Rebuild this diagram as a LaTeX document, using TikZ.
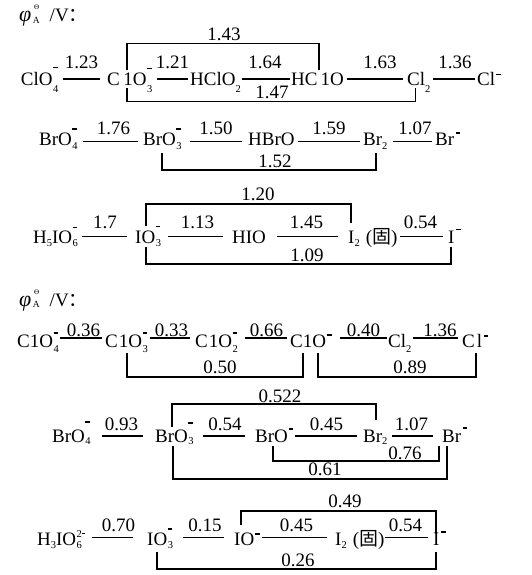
\documentclass[tikz,border=0pt]{standalone}
\usepackage{fontspec}
\setmainfont{Liberation Serif}
\newfontfamily\cjk{Noto Sans CJK SC}
\newcommand\fs{\fontsize{19}{22}\selectfont}
\newcommand\ssz{\fontsize{10.5}{12}\selectfont}
\newcommand\mn[1]{\raisebox{#1}{\rule{4.5pt}{1.6pt}}}
\def\sbd{7pt}
\newcommand\sbs[1]{\raisebox{-\sbd}{\ssz #1}}
\newcommand\stack[2]{\setbox0=\hbox{#1}\setbox2=\hbox{#2}\ifdim\wd0>\wd2 \dimen0=\wd0 \else \dimen0=\wd2 \fi\rlap{\box0}\rlap{\box2}\kern\dimen0\relax}
\newcommand\stk[2]{\kern0.5pt\stack{\sbs{#1}}{#2}}
\newcommand\phiA{{\fontsize{22}{22}\selectfont\textit{φ}}\kern1.5pt\stack{\raisebox{-1.5pt}{\fontsize{9.5}{9.5}\selectfont A}}{\kern1.2pt\raisebox{12pt}{\fontsize{7}{7}\selectfont Θ}}\kern10pt/V{\cjk ：}}
\begin{document}
\begin{tikzpicture}[x=1pt,y=-1pt,
  t/.style={inner sep=0pt,font=\fs,anchor=base west},
  lbl/.style={inner sep=0pt,font=\fs,anchor=base},
  ln/.style={line width=1.1pt}]
\useasboundingbox (0,0) rectangle (532,575);
% headings
\node[t] (h1) at (19,22) {\phiA};
\node[t] (h2) at (19,306) {\phiA};
% ---------------- row 1
\def\sbd{7pt}
\node[t] (n11) at (20.7,85.5) {ClO\stk{4}{\mn{17pt}}};
\node[t] (n12) at (107,85.5) {C\kern3.5pt 1O\stk{3}{\mn{16pt}}};
\node[t] (n13) at (190,85.5) {HClO\sbs{2}};
\node[t] (n14) at (291,85.5) {HC\kern3pt 1O};
\node[t] (n15) at (407,85.5) {Cl\sbs{2}};
\node[t] (n16) at (477,85.5) {Cl\kern1pt\mn{10pt}};
\draw[ln] ([shift={(42.3,-6.5)}]n11.base west) -- ([shift={(-7,-6.5)}]n12.base west) node[lbl,midway,yshift=10.5pt] (v11) {1.23};
\draw[ln] ([shift={(50,-6.5)}]n12.base west) -- ([shift={(-2,-6.5)}]n13.base west) node[lbl,midway,yshift=10.5pt] (v12) {1.21};
\draw[ln] ([shift={(52,-6.5)}]n13.base west) -- ([shift={(-1,-6.5)}]n14.base west) node[lbl,midway,yshift=10.5pt,xshift=-1pt] (v13) {1.64};
\draw[ln] ([shift={(56,-6.5)}]n14.base west) -- ([shift={(-4,-6.5)}]n15.base west) node[lbl,midway,yshift=10.5pt,xshift=5pt] (v14) {1.63};
\draw[ln] ([shift={(26,-6.5)}]n15.base west) -- ([shift={(-2,-6.5)}]n16.base west) node[lbl,midway,yshift=10.5pt,xshift=1pt] (v15) {1.36};
\draw[ln] ([shift={(20,-15.5)}]n12.base west) |- ([shift={(28,-42.2)}]n14.base west) -- ([shift={(28,-15.5)}]n14.base west);
\node[lbl] (b11) at (224,41) {1.43};
\draw[ln] ([shift={(20,3)}]n12.base west) |- ([shift={(8.7,16.2)}]n15.base west) -- ([shift={(8.7,3)}]n15.base west);
\node[lbl] (b12) at (272,99) {1.47};
% ---------------- row 2
\def\sbd{3.5pt}
\node[t] (n21) at (39,146) {BrO\stk{4}{\mn{16pt}}};
\node[t] (n22) at (143,146) {BrO\stk{3}{\mn{16pt}}};
\node[t] (n23) at (248,146) {HBrO};
\node[t] (n24) at (363,146) {Br\sbs{2}};
\node[t] (n25) at (435,146) {Br\kern1.5pt\mn{12pt}};
\draw[ln] ([shift={(44,-4.3)}]n21.base west) -- ([shift={(-5,-4.3)}]n22.base west) node[lbl,midway,yshift=6.7pt,xshift=3pt] (v21) {1.76};
\draw[ln] ([shift={(47,-4.3)}]n22.base west) -- ([shift={(-6,-4.3)}]n23.base west) node[lbl,midway,yshift=6.7pt] (v22) {1.50};
\draw[ln] ([shift={(50,-4.3)}]n23.base west) -- ([shift={(-3,-4.3)}]n24.base west) node[lbl,midway,yshift=6.7pt] (v23) {1.59};
\draw[ln] ([shift={(30,-4.3)}]n24.base west) -- ([shift={(-3,-4.3)}]n25.base west) node[lbl,midway,yshift=6.7pt,xshift=2.5pt] (v24) {1.07};
\draw[ln] ([shift={(19,7)}]n22.base west) |- ([shift={(13,24)}]n24.base west) -- ([shift={(13,7)}]n24.base west);
\node[lbl] (b21) at (275,167) {1.52};
% ---------------- row 3
\def\sbd{3.5pt}
\node[t] (n31) at (33,243.3) {H\sbs{5}IO\stk{6}{\mn{15pt}}};
\node[t] (n32) at (135,243.3) {IO\stk{3}{\mn{16pt}}};
\node[t] (n33) at (232,243.3) {HIO};
\node[t] (n34) at (348,243.3) {I\sbs{2}\kern6pt({\cjk 固})};
\node[t] (n35) at (448,243.3) {I\kern1.5pt\mn{13pt}};
\draw[ln] ([shift={(49,-6.6)}]n31.base west) -- ([shift={(-8,-6.6)}]n32.base west) node[lbl,midway,yshift=8.4pt,xshift=0.5pt] (v31) {1.7};
\draw[ln] ([shift={(33,-6.6)}]n32.base west) -- ([shift={(-9,-6.6)}]n33.base west) node[lbl,midway,yshift=8.4pt,xshift=2pt] (v32) {1.13};
\draw[ln] ([shift={(45,-6.6)}]n33.base west) -- ([shift={(-10,-6.6)}]n34.base west) node[lbl,midway,yshift=8.4pt,xshift=-1pt] (v33) {1.45};
\draw[ln] ([shift={(52,-6.6)}]n34.base west) -- ([shift={(-5,-6.6)}]n35.base west) node[lbl,midway,yshift=8.4pt,xshift=-1pt] (v34) {0.54};
\draw[ln] ([shift={(11,-17.3)}]n32.base west) |- ([shift={(3,-39.3)}]n34.base west) -- ([shift={(3,-20.3)}]n34.base west);
\node[lbl] (b31) at (258,200) {1.20};
\draw[ln] ([shift={(11,3.7)}]n32.base west) |- ([shift={(3,20.7)}]n35.base west) -- ([shift={(3,3.7)}]n35.base west);
\node[lbl] (b32) at (307,261.5) {1.09};
% ---------------- row 4
\def\sbd{5pt}
\node[t] (n41) at (17,347) {C1O\stk{4}{\mn{13pt}}};
\node[t] (n42) at (105,347) {C\kern1pt 1O\stk{3}{\mn{13pt}}};
\node[t] (n43) at (195,347) {C\kern1pt 1O\stk{2}{\mn{13pt}}};
\node[t] (n44) at (290,347) {C1O\kern1pt\mn{11pt}};
\node[t] (n45) at (388,347) {Cl\sbs{2}};
\node[t] (n46) at (462,347) {C\kern2pt l\kern1.5pt\mn{10pt}};
\draw[ln] ([shift={(43,-9)}]n41.base west) -- ([shift={(-3,-9)}]n42.base west) node[lbl,midway,yshift=1.5pt,xshift=2.5pt] (v41) {0.36};
\draw[ln] ([shift={(45,-9)}]n42.base west) -- ([shift={(-5,-9)}]n43.base west) node[lbl,midway,yshift=1.5pt,xshift=1.5pt] (v42) {0.33};
\draw[ln] ([shift={(50,-9)}]n43.base west) -- ([shift={(-3,-9)}]n44.base west) node[lbl,midway,yshift=1.5pt,xshift=0.5pt] (v43) {0.66};
\draw[ln] ([shift={(50,-9)}]n44.base west) -- ([shift={(-1,-9)}]n45.base west) node[lbl,midway,yshift=1.5pt] (v44) {0.40};
\draw[ln] ([shift={(25,-9)}]n45.base west) -- ([shift={(-4,-9)}]n46.base west) node[lbl,midway,yshift=1.5pt,xshift=4.5pt] (v45) {1.36};
\draw[ln] ([shift={(22,6)}]n42.base west) |- ([shift={(13,30)}]n44.base west) -- ([shift={(13,6)}]n44.base west);
\node[lbl] (b41) at (220,373) {0.50};
\draw[ln] ([shift={(28,6)}]n44.base west) |- ([shift={(14,30)}]n46.base west) -- ([shift={(14,6)}]n46.base west);
\node[lbl] (b42) at (410,373) {0.89};
% ---------------- row 5
\def\sbd{2.5pt}
\node[t] (n51) at (52,442) {BrO\stk{4}{\mn{19pt}}};
\node[t] (n52) at (155,442) {BrO\stk{3}{\mn{18pt}}};
\node[t] (n53) at (255,442) {BrO\kern1pt\mn{12pt}};
\node[t] (n54) at (363,442) {Br\sbs{2}};
\node[t] (n55) at (442,442) {Br\kern1.5pt\mn{13pt}};
\draw[ln] ([shift={(50,-6)}]n51.base west) -- ([shift={(-12,-6)}]n52.base west) node[lbl,midway,yshift=6pt,xshift=-1pt] (v51) {0.93};
\draw[ln] ([shift={(48,-6)}]n52.base west) -- ([shift={(-10,-6)}]n53.base west) node[lbl,midway,yshift=6pt,xshift=1pt] (v52) {0.54};
\draw[ln] ([shift={(40,-6)}]n53.base west) -- ([shift={(-6,-6)}]n54.base west) node[lbl,midway,yshift=6pt,xshift=0.5pt] (v53) {0.45};
\draw[ln] ([shift={(29,-6)}]n54.base west) -- ([shift={(-9,-6)}]n55.base west) node[lbl,midway,yshift=6pt,xshift=-1pt] (v54) {1.07};
\draw[ln] ([shift={(17,-15)}]n52.base west) |- ([shift={(13,-38)}]n54.base west) -- ([shift={(13,-22)}]n54.base west);
\node[lbl] (b51) at (280,402) {0.522};
\draw[ln] ([shift={(18,4)}]n53.base west) |- ([shift={(-3,19)}]n55.base west) -- ([shift={(-3,4)}]n55.base west);
\node[lbl] (b52) at (405,459.5) {0.76};
\draw[ln] ([shift={(18,4)}]n52.base west) |- ([shift={(5,37)}]n55.base west) -- ([shift={(5,4)}]n55.base west);
\node[lbl] (b53) at (325,475) {0.61};
% ---------------- row 6
\def\sbd{3pt}
\node[t] (n61) at (37,545) {H\sbs{3}IO\stk{6}{\raisebox{8pt}{\ssz 2\kern0.5pt\rule[3pt]{3pt}{0.8pt}}}};
\node[t] (n62) at (147,545) {IO\stk{3}{\mn{15pt}}};
\node[t] (n63) at (234,545) {IO\kern1pt\mn{10pt}};
\node[t] (n64) at (335,545) {I\sbs{2}\kern6pt({\cjk 固})};
\node[t] (n65) at (433,545) {I\kern1.5pt\mn{12pt}};
\draw[ln] ([shift={(55,-7.3)}]n61.base west) -- ([shift={(-14,-7.3)}]n62.base west) node[lbl,midway,yshift=6pt,xshift=6pt] (v61) {0.70};
\draw[ln] ([shift={(36,-7.3)}]n62.base west) -- ([shift={(-10,-7.3)}]n63.base west) node[lbl,midway,yshift=6pt,xshift=1.5pt] (v62) {0.15};
\draw[ln] ([shift={(28,-7.3)}]n63.base west) -- ([shift={(-8,-7.3)}]n64.base west) node[lbl,midway,yshift=6pt,xshift=2pt] (v63) {0.45};
\draw[ln] ([shift={(50,-7.3)}]n64.base west) -- ([shift={(-5,-7.3)}]n65.base west) node[lbl,midway,yshift=6pt,xshift=-1pt] (v64) {0.54};
\draw[ln] ([shift={(7,-20)}]n63.base west) |- ([shift={(3,-34)}]n65.base west) -- ([shift={(3,-12)}]n65.base west);
\node[lbl] (b61) at (345,507) {0.49};
\draw[ln] ([shift={(10,7)}]n62.base west) |- ([shift={(3,24)}]n65.base west) -- ([shift={(3,7)}]n65.base west);
\node[lbl] (b62) at (298,566) {0.26};
\end{tikzpicture}
\end{document}
